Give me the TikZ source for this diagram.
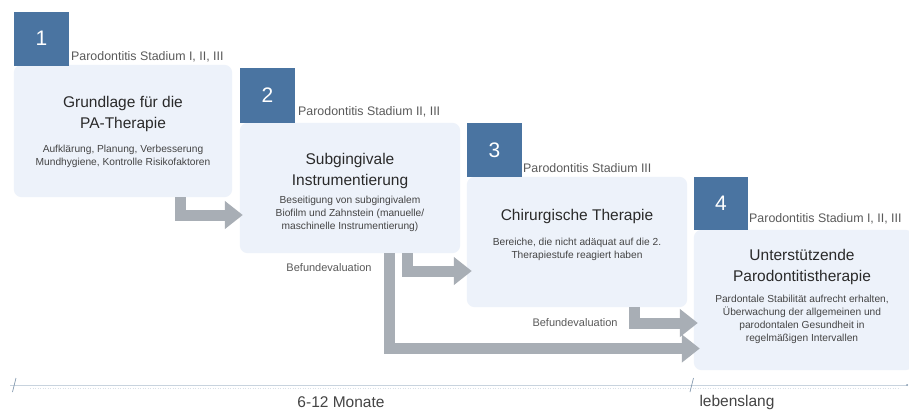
\documentclass[tikz,border=0pt]{standalone}
\usepackage{fontspec}
\setmainfont{Liberation Sans}
\usetikzlibrary{arrows.meta}
\definecolor{numblue}{HTML}{4A74A1}
\definecolor{boxfill}{HTML}{EDF2FA}
\definecolor{arrgray}{HTML}{A8AEB5}
\definecolor{txtdark}{HTML}{2A2A2A}
\definecolor{txtmid}{HTML}{444444}
\definecolor{txtlab}{HTML}{5A5A5A}
\definecolor{tlline}{HTML}{C8D3DE}
\definecolor{tltick}{HTML}{7F95AC}
\tikzset{
  stagebox/.style={fill=boxfill, rounded corners=8pt, draw=none},
  numbox/.style={fill=numblue, draw=none},
  numtext/.style={text=white, font=\fontsize{21}{21}\selectfont},
  titletext/.style={text=txtdark, align=center, font=\fontsize{15.5}{21}\selectfont, inner sep=0pt},
  subtext/.style={text=txtmid, align=center, font=\fontsize{10.2}{13}\selectfont, inner sep=0pt},
  labtext/.style={text=txtlab, anchor=west, font=\fontsize{12.4}{12.4}\selectfont, inner sep=0pt},
  flowarrow/.style={draw=arrgray, line width=11pt, line join=miter, -{Triangle[width=27pt,length=18pt]}},
  tltext/.style={text=txtmid, font=\fontsize{15.5}{15.5}\selectfont, inner sep=0pt},
}
\begin{document}
\begin{tikzpicture}[x=1pt,y=-1pt]
\clip (0,0) rectangle (909,410);
\fill[white] (0,0) rectangle (909,410);

% stage boxes
\node[inner sep=0pt, minimum width=218pt, minimum height=132pt] (box1) at (123,131) {};
\node[inner sep=0pt, minimum width=220pt, minimum height=130pt] (box2) at (350,188) {};
\node[inner sep=0pt, minimum width=220pt, minimum height=130pt] (box3) at (577,242) {};
\node[inner sep=0pt, minimum width=219pt, minimum height=140pt] (box4) at (803.5,300) {};
\path[stagebox] (box1.north west) rectangle (box1.south east);
\path[stagebox] (box2.north west) rectangle (box2.south east);
\path[stagebox] (box3.north west) rectangle (box3.south east);
\path[stagebox] (box4.north west) rectangle (box4.south east);

% number squares
\node[numbox, minimum width=55pt, minimum height=54pt, inner sep=0pt] (n1) at (41.5,38.5) {};
\node[numtext] at (n1) {1};
\node[numbox, minimum width=55pt, minimum height=55pt, inner sep=0pt] (n2) at (267.5,95.5) {};
\node[numtext] at (n2) {2};
\node[numbox, minimum width=55pt, minimum height=54pt, inner sep=0pt] (n3) at (494.5,150) {};
\node[numtext] at (n3) {3};
\node[numbox, minimum width=54pt, minimum height=53pt, inner sep=0pt] (n4) at (721,203.5) {};
\node[numtext] at (n4) {4};

% stage labels
\node[labtext] (l1) at (71,57) {Parodontitis Stadium I, II, III};
\node[labtext] (l2) at (298,112) {Parodontitis Stadium II, III};
\node[labtext] (l3) at (523,168) {Parodontitis Stadium III};
\node[labtext] (l4) at (749,219) {Parodontitis Stadium I, II, III};

% box texts
\node[titletext] (t1) at (123,113.5) {Grundlage für die\\PA-Therapie};
\node[subtext] (s1) at (123,156) {Aufklärung, Planung, Verbesserung\\Mundhygiene, Kontrolle Risikofaktoren};
\node[titletext] (t2) at (350,170.5) {Subgingivale\\Instrumentierung};
\node[subtext] (s2) at (350,214) {Beseitigung von subgingivalem\\Biofilm und Zahnstein (manuelle/\\maschinelle Instrumentierung)};
\node[titletext] (t3) at (577,216) {Chirurgische Therapie};
\node[subtext] (s3) at (577,249.5) {Bereiche, die nicht adäquat auf die 2.\\Therapiestufe reagiert haben};
\node[titletext] (t4) at (802,266.5) {Unterstützende\\Parodontitistherapie};
\node[subtext] (s4) at (802,319) {Pardontale Stabilität aufrecht erhalten,\\Überwachung der allgemeinen und\\parodontalen Gesundheit in\\regelmäßigen Intervallen};

% Befundevaluation labels
\node[text=txtlab, font=\fontsize{11}{11}\selectfont, inner sep=0pt] (bef1) at (329,268) {Befundevaluation};
\node[text=txtlab, font=\fontsize{11}{11}\selectfont, inner sep=0pt] (bef2) at (575,323) {Befundevaluation};

% arrows
\coordinate (a1s) at (box1.south -| 180,0);
\coordinate (a1e) at (box2.west |- 0,215);
\draw[flowarrow] (a1s) |- ([xshift=3pt]a1e);
\coordinate (a2s) at (box2.south -| 407.5,0);
\coordinate (a2e) at (box3.west |- 0,271);
\draw[flowarrow] (a2s) |- ([xshift=5pt]a2e);
\coordinate (a3s) at (box2.south -| 389,0);
\coordinate (a3e) at (box4.west |- 0,348.5);
\draw[flowarrow] (a3s) |- ([xshift=6pt]a3e);
\coordinate (a4s) at (box3.south -| 634,0);
\coordinate (a4e) at (box4.west |- 0,323);
\draw[flowarrow] (a4s) |- ([xshift=4pt]a4e);

% timeline
\coordinate (tl0) at (10,385);
\coordinate (tl1) at (907,385);
\draw[tlline, line width=0.7pt] (tl0) -- (tl1);
\draw[tlline!70, line width=0.5pt, dotted] (30,388) -- (900,388);
\fill[tltick] (tl1) circle (1pt);
\draw[tltick, line width=0.7pt] (12.5,392) -- (16,378);
\draw[tltick, line width=0.7pt] (690,392) -- (693.5,378);
\node[tltext] (m1) at (341,402) {6-12 Monate};
\node[tltext] (m2) at (737,402) {lebenslang};
\end{tikzpicture}
\end{document}
